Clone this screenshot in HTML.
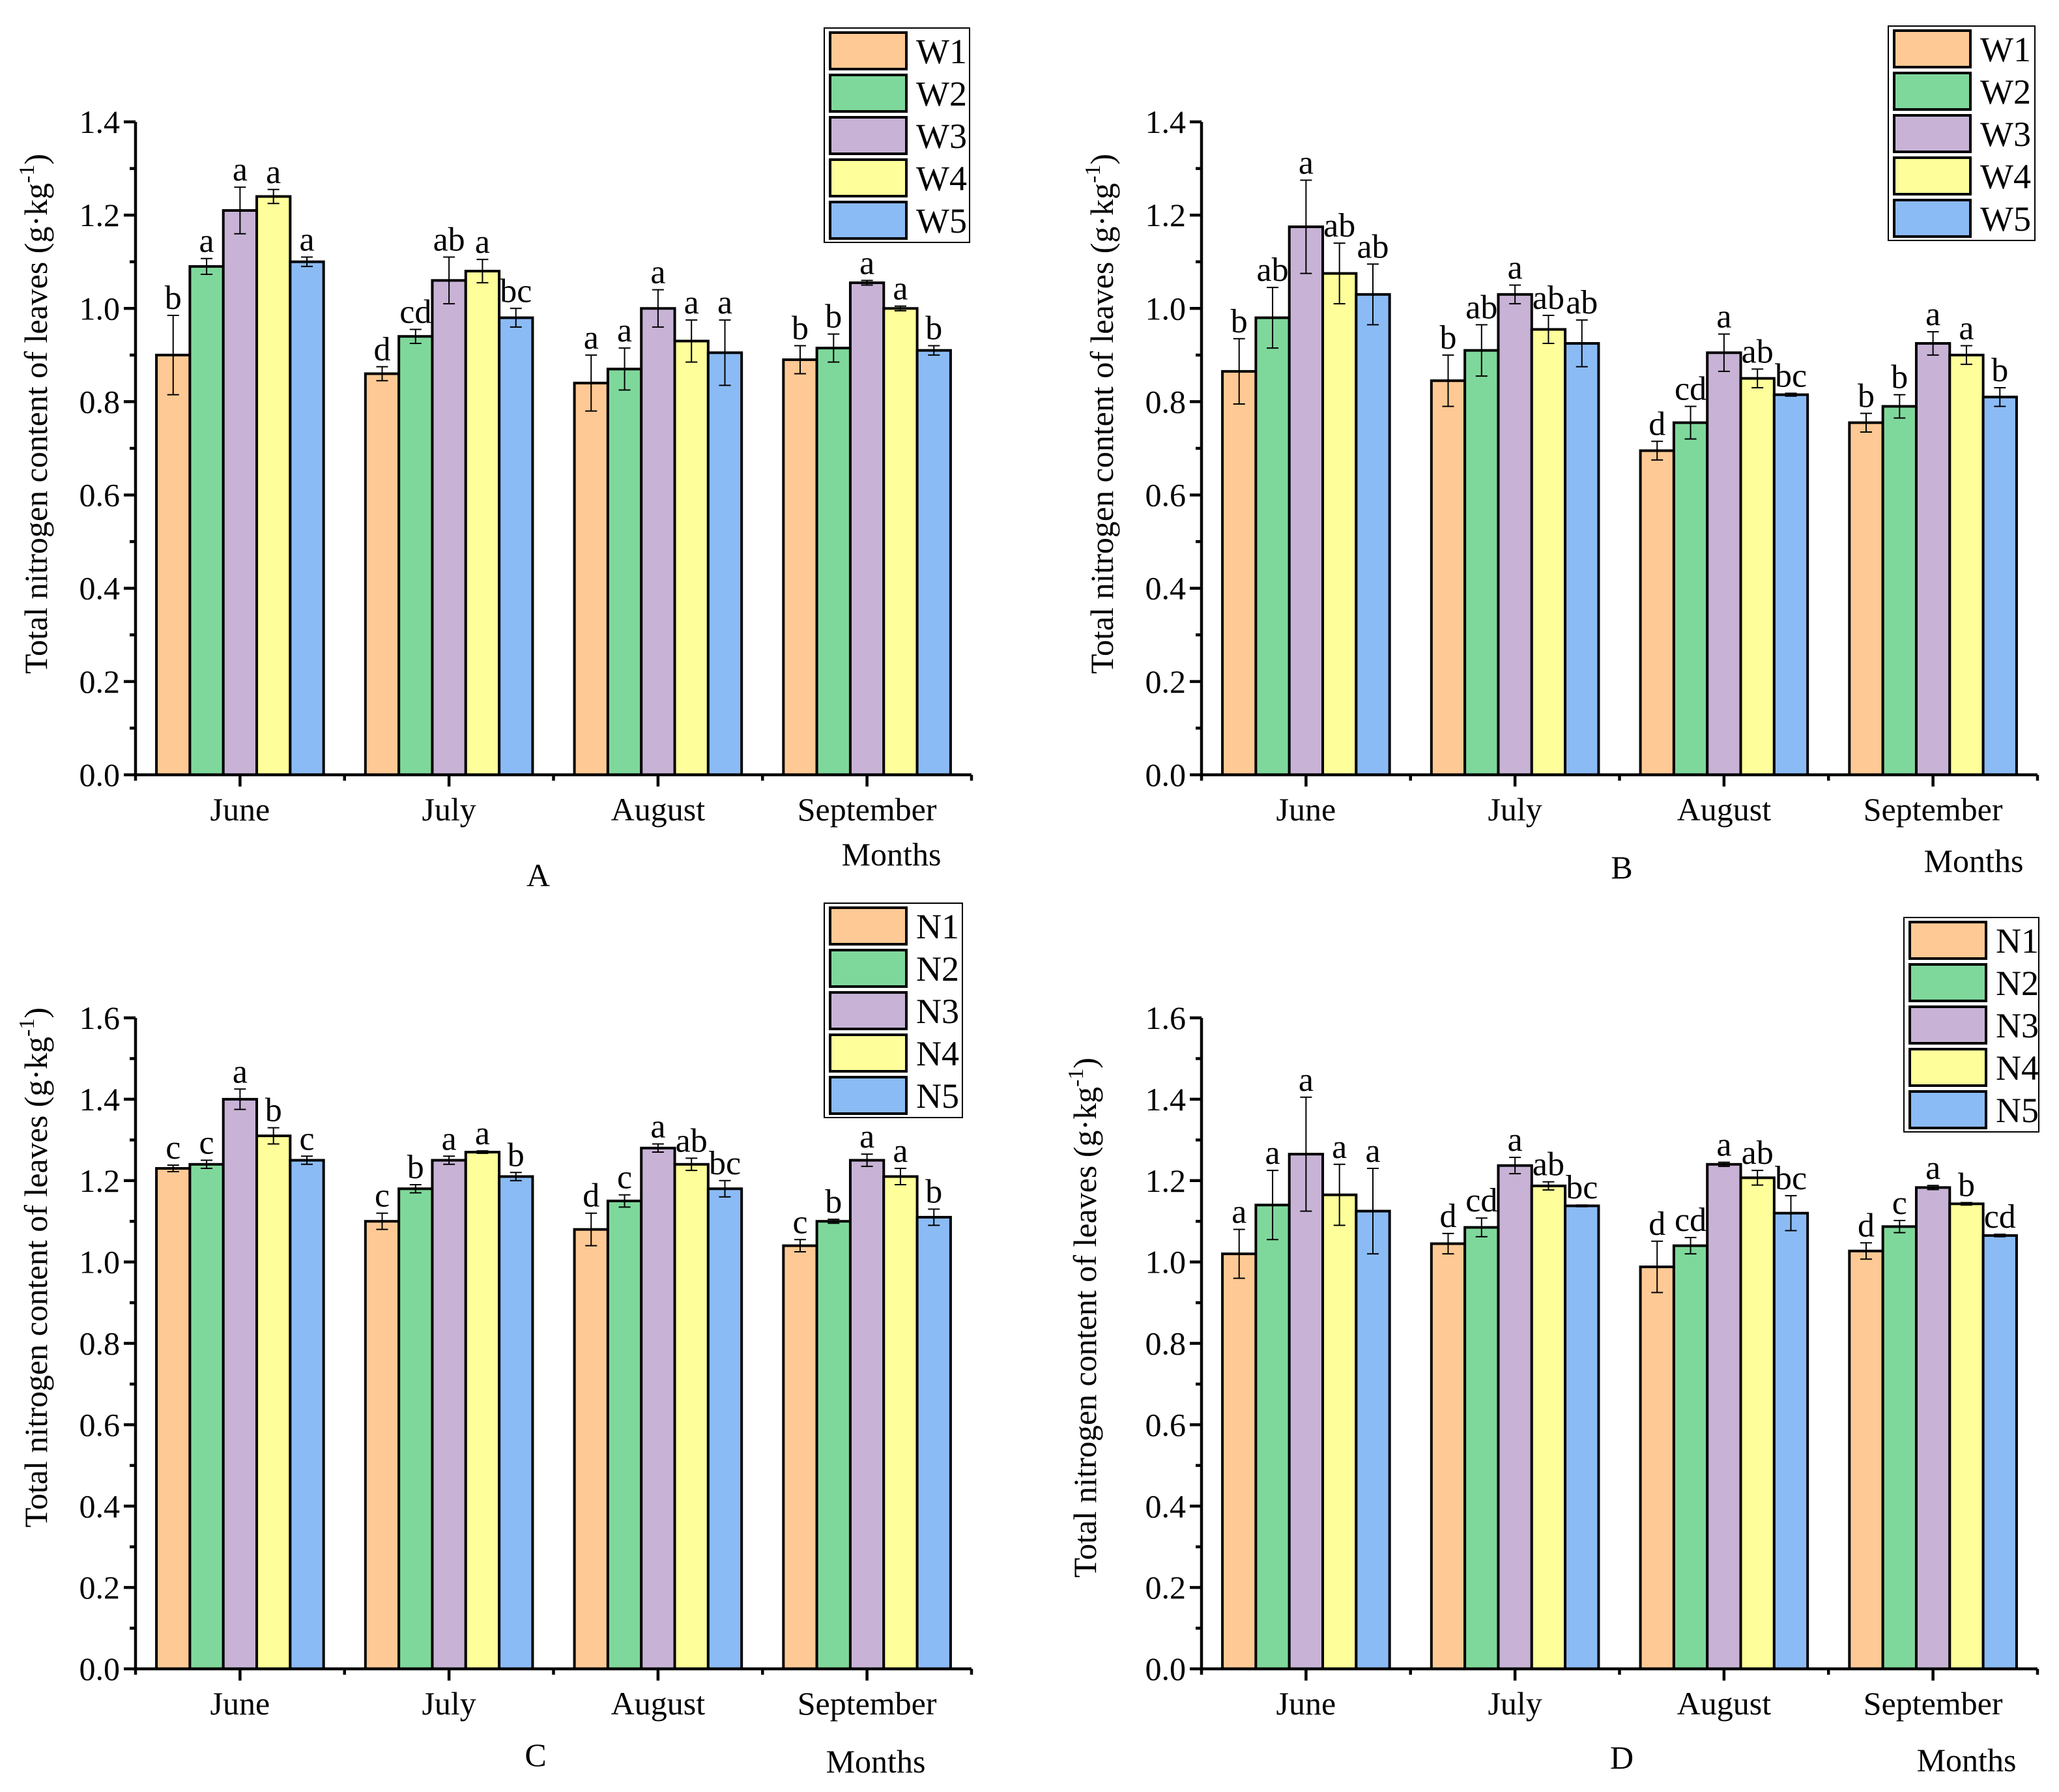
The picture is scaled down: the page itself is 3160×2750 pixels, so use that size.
<!DOCTYPE html>
<html><head><meta charset="utf-8"><style>
html,body{margin:0;padding:0;background:#fff;}
svg{display:block;}
svg text{font-family:"Liberation Serif","DejaVu Serif",serif;}
</style></head><body>
<svg id="fig" width="3160" height="2750" viewBox="0 0 3160 2750" font-family="Liberation Serif, serif" xmlns="http://www.w3.org/2000/svg"></svg>
<script>
const months = ["June","July","August","September"];
const colors = ["#FEC994","#7FD89B","#C8B3D6","#FEFF9A","#8BBBF5"];
// Panel A
const aNames = ["W1","W2","W3","W4","W5"];
const aVals = [[0.90,1.09,1.21,1.24,1.10],[0.86,0.94,1.06,1.08,0.98],[0.84,0.87,1.00,0.93,0.905],[0.89,0.915,1.055,1.00,0.91]];
const aErr = [[0.085,0.017,0.05,0.015,0.01],[0.015,0.015,0.05,0.025,0.02],[0.06,0.045,0.04,0.045,0.07],[0.03,0.03,0.005,0.005,0.01]];
const aLet = [["b","a","a","a","a"],["d","cd","ab","a","bc"],["a","a","a","a","a"],["b","b","a","a","b"]];
// Panel B
const bVals = [[0.865,0.98,1.175,1.075,1.03],[0.845,0.91,1.03,0.955,0.925],[0.695,0.755,0.905,0.85,0.815],[0.755,0.79,0.925,0.90,0.81]];
const bErr = [[0.07,0.065,0.1,0.065,0.065],[0.055,0.055,0.02,0.03,0.05],[0.02,0.035,0.04,0.02,0.003],[0.02,0.025,0.025,0.02,0.02]];
const bLet = [["b","ab","a","ab","ab"],["b","ab","a","ab","ab"],["d","cd","a","ab","bc"],["b","b","a","a","b"]];
// Panel C
const cNames = ["N1","N2","N3","N4","N5"];
const cVals = [[1.23,1.24,1.40,1.31,1.25],[1.10,1.18,1.25,1.27,1.21],[1.08,1.15,1.28,1.24,1.18],[1.04,1.10,1.25,1.21,1.11]];
const cErr = [[0.008,0.01,0.025,0.02,0.01],[0.02,0.01,0.01,0.003,0.01],[0.04,0.015,0.01,0.015,0.02],[0.015,0.005,0.015,0.02,0.02]];
const cLet = [["c","c","a","b","c"],["c","b","a","a","b"],["d","c","a","ab","bc"],["c","b","a","a","b"]];
// Panel D
const dVals = [[1.02,1.14,1.265,1.165,1.125],[1.045,1.085,1.237,1.187,1.138],[0.988,1.04,1.24,1.207,1.12],[1.027,1.087,1.183,1.143,1.065]];
const dErr = [[0.06,0.085,0.14,0.075,0.105],[0.025,0.023,0.02,0.01,0.002],[0.063,0.02,0.005,0.018,0.043],[0.02,0.015,0.005,0.003,0.003]];
const dLet = [["a","a","a","a","a"],["d","cd","a","ab","bc"],["d","cd","a","ab","bc"],["d","c","a","b","cd"]];
const yTicksA = ["0.0","0.2","0.4","0.6","0.8","1.0","1.2","1.4"];
const yTicksC = ["0.0","0.2","0.4","0.6","0.8","1.0","1.2","1.4","1.6"];

const NS="http://www.w3.org/2000/svg";
const FF="Liberation Serif, DejaVu Serif, serif";
const svg=document.getElementById('fig');
function mk(tag,attrs,parent,text){const e=document.createElementNS(NS,tag);for(const k in attrs)e.setAttribute(k,attrs[k]);if(tag==='text')e.setAttribute('font-family',FF);if(text!==undefined)e.textContent=text;(parent||svg).appendChild(e);return e;}

function panel(p){
  const g=mk('g',{'font-family':FF});
  
  
  const ymax=parseFloat(p.ticks[p.ticks.length-1]);
  const ys=v=>p.y0-(v/ymax)*(p.y0-p.yt);
  const cw=(p.xr-p.x0)/months.length, bw=cw*0.8/5;
  months.forEach((m,i)=>{
    const gx=p.x0+cw*i+cw*0.1;
    for(let s=0;s<5;s++){
      const v=p.vals[i][s], e=p.err[i][s];
      const x=gx+bw*s, cx=x+bw/2;
      const r=mk('rect',{x:x,y:ys(v),width:bw,height:p.y0-ys(v),fill:colors[s],stroke:'#000','stroke-width':4},g);
      
      
      const eb=mk('path',{d:`M${cx},${ys(v-e)}V${ys(v+e)}M${cx-9},${ys(v+e)}H${cx+9}M${cx-9},${ys(v-e)}H${cx+9}`,stroke:'#000','stroke-width':2,fill:'none'},g);
      
      
      const t=mk('text',{x:cx,y:ys(v+e)-10,'font-size':52,'text-anchor':'middle'},g,p.lets[i][s]);
      
      
    }
    const ml=mk('text',{x:p.x0+cw*(i+0.5),y:p.y0+70,'font-size':50,'text-anchor':'middle'},g,m);
    
    
  });
  let d=`M${p.x0},${p.yt}V${p.y0}H${p.xr}`;
  p.ticks.forEach((t,k)=>{const y=ys(parseFloat(t));d+=`M${p.x0},${y}H${p.x0-18}`;
    if(k<p.ticks.length-1){const ym=ys(parseFloat(t)+0.1);d+=`M${p.x0},${ym}H${p.x0-9}`;}
    const tl=mk('text',{x:p.x0-24,y:y+17,'font-size':50,'text-anchor':'end'},g,t);
    
    
  });
  for(let i=0;i<=months.length;i++){const x=p.x0+cw*i;d+=`M${x},${p.y0}V${p.y0+9}`;if(i<months.length){const c=x+cw/2;d+=`M${c},${p.y0}V${p.y0+18}`;}}
  const ax=mk('path',{d:d,stroke:'#000','stroke-width':4.5,fill:'none'},g);
  
  
  const yt=mk('text',{transform:`translate(${p.tx},${p.tcy}) rotate(-90)`,'font-size':50,'text-anchor':'middle'},g);
  
  
  mk('tspan',{},yt,'Total nitrogen content of leaves (g·kg');
  mk('tspan',{dy:-20,'font-size':34},yt,'-1');
  mk('tspan',{dy:20},yt,')');
  const mo=mk('text',{x:p.mx,y:p.my,'font-size':50,'text-anchor':'middle'},g,'Months');
  
  
  const lb=mk('text',{x:p.lx,y:p.ly,'font-size':50,'text-anchor':'middle'},g,p.id);
  
  
  const lg=mk('g',{},g);
  
  
  mk('rect',{x:p.gx,y:p.gy,width:p.gw,height:329,fill:'#fff',stroke:'#000','stroke-width':2},lg);
  p.names.forEach((n,s)=>{
    const y=p.gy+7+65*s;
    const sw=mk('rect',{x:p.gx+9,y:y,width:117,height:56,fill:colors[s],stroke:'#000','stroke-width':4},lg);
    
    
    const lt=mk('text',{x:p.gx+141,y:y+47,'font-size':54},lg,n);
    
    
  });
}
panel({id:'A',x0:208,xr:1491,y0:1189,yt:187,ticks:yTicksA,vals:aVals,err:aErr,lets:aLet,names:aNames,tx:72,tcy:635,mx:1368,my:1328,lx:826,ly:1360,gx:1265,gy:43,gw:223});
panel({id:'B',x0:1844,xr:3127,y0:1189,yt:187,ticks:yTicksA,vals:bVals,err:bErr,lets:bLet,names:aNames,tx:1708,tcy:635,mx:3029,my:1338,lx:2489,ly:1348,gx:2898,gy:40,gw:225});
panel({id:'C',x0:208,xr:1491,y0:2561,yt:1562,ticks:yTicksC,vals:cVals,err:cErr,lets:cLet,names:cNames,tx:72,tcy:1945,mx:1344,my:2720,lx:822,ly:2710,gx:1265,gy:1386,gw:212});
panel({id:'D',x0:1844,xr:3127,y0:2561,yt:1562,ticks:yTicksC,vals:dVals,err:dErr,lets:dLet,names:cNames,tx:1682,tcy:2022,mx:3018,my:2718,lx:2489,ly:2714,gx:2922,gy:1408,gw:207});
</script>
</body></html>
